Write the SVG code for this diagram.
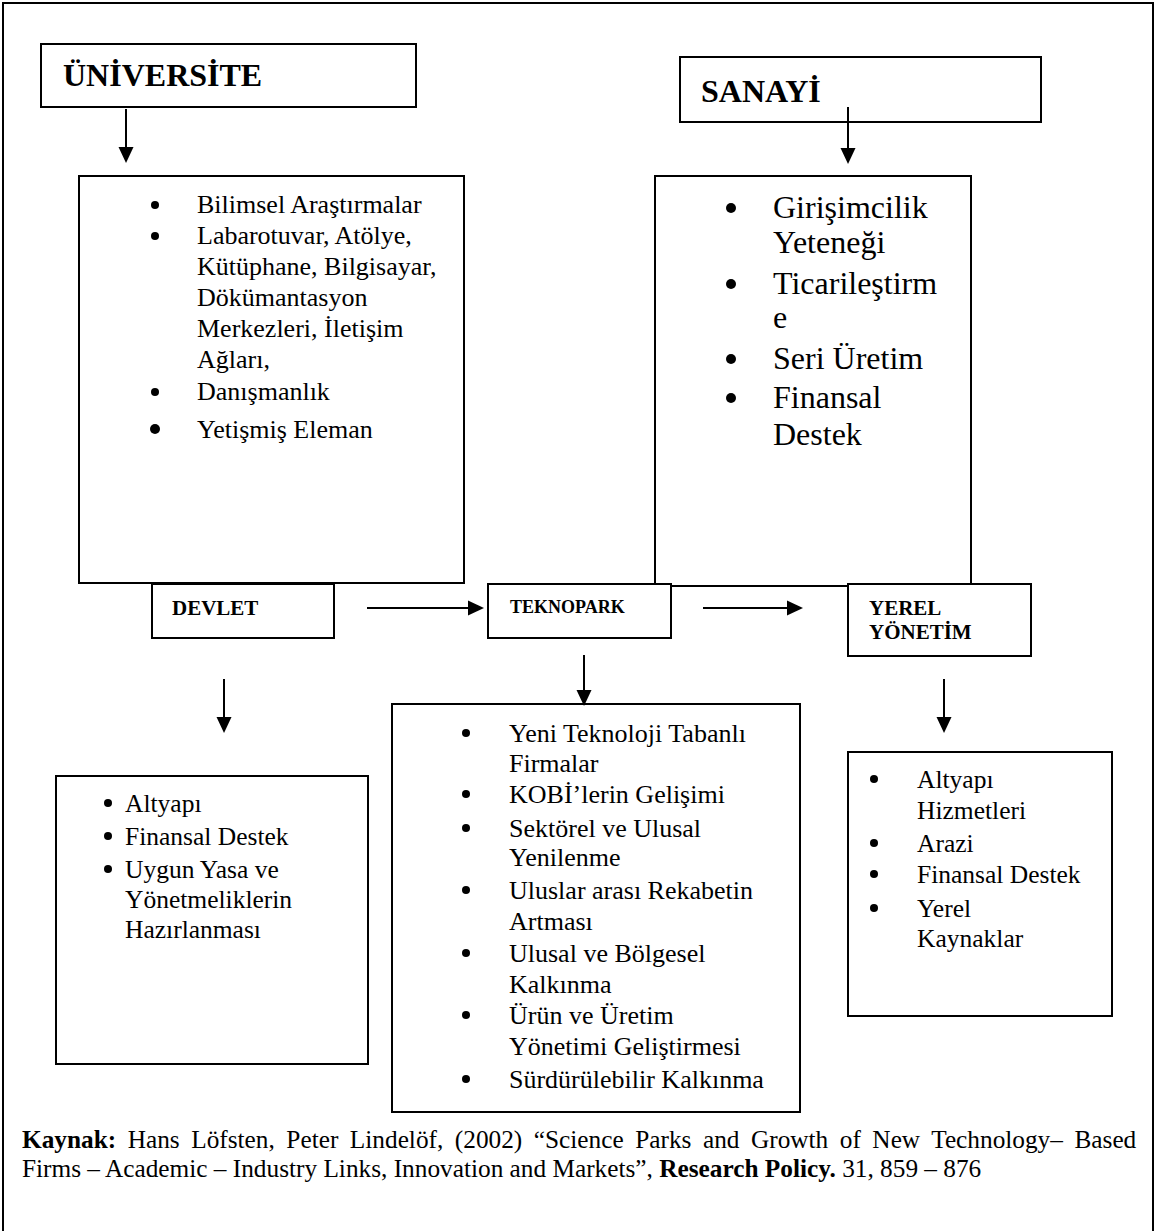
<svg xmlns="http://www.w3.org/2000/svg" width="1155" height="1231" viewBox="0 0 1155 1231">
  <style>
    .box { fill: #fff; stroke: #000; stroke-width: 2; }
    .frame { fill: none; stroke: #000; stroke-width: 2; }
    .t { font-family: "Liberation Serif", "Times New Roman", serif; fill: #000; }
    .title { font-weight: bold; font-size: 32px; }
    .small { font-weight: bold; font-size: 21px; }
    .b26 { font-size: 26px; }
    .b25 { font-size: 25.5px; }
    .b32 { font-size: 32px; }
    .foot { font-size: 25.3px; }
    .dot { fill: #000; }
    .conn { stroke: #000; stroke-width: 2; fill: none; marker-end: url(#ah); }
  </style>
  <defs>
    <marker id="ah" markerWidth="16" markerHeight="16" refX="12" refY="8" orient="auto" markerUnits="userSpaceOnUse">
      <path d="M0,0.5 L16,8 L0,15.5 Z" fill="#000"/>
    </marker>
  </defs>
  <rect width="1155" height="1231" fill="#fff"/>
  <path class="frame" d="M3,1235 V3 H1153 V1235"/>

  <g id="universite-icerik">
    <rect class="box" x="79" y="176" width="385" height="407"/>
    <circle class="dot" cx="155" cy="205" r="4"/>
    <circle class="dot" cx="155" cy="236" r="4"/>
    <circle class="dot" cx="155" cy="392" r="4"/>
    <circle class="dot" cx="155" cy="429" r="5"/>
    <text class="t b26" x="197" y="213">Bilimsel Araştırmalar</text>
    <text class="t b26" x="197" y="244">Labarotuvar, Atölye,</text>
    <text class="t b26" x="197" y="275">Kütüphane, Bilgisayar,</text>
    <text class="t b26" x="197" y="306">Dökümantasyon</text>
    <text class="t b26" x="197" y="337">Merkezleri, İletişim</text>
    <text class="t b26" x="197" y="368">Ağları,</text>
    <text class="t b26" x="197" y="400">Danışmanlık</text>
    <text class="t b26" x="197" y="438">Yetişmiş Eleman</text>
  </g>

  <g id="sanayi-icerik">
    <rect class="box" x="655" y="176" width="316" height="410"/>
    <circle class="dot" cx="731" cy="208" r="5"/>
    <circle class="dot" cx="731" cy="284" r="5"/>
    <circle class="dot" cx="731" cy="359" r="5"/>
    <circle class="dot" cx="731" cy="398" r="5"/>
    <text class="t b32" x="773" y="218">Girişimcilik</text>
    <text class="t b32" x="773" y="253">Yeteneği</text>
    <text class="t b32" x="773" y="294">Ticarileştirm</text>
    <text class="t b32" x="773" y="328">e</text>
    <text class="t b32" x="773" y="369">Seri Üretim</text>
    <text class="t b32" x="773" y="408">Finansal</text>
    <text class="t b32" x="773" y="445">Destek</text>
  </g>

  <g id="universite">
    <rect class="box" x="41" y="44" width="375" height="63"/>
    <text class="t title" x="63" y="86">ÜNİVERSİTE</text>
  </g>

  <g id="sanayi">
    <rect class="box" x="680" y="57" width="361" height="65"/>
    <text class="t title" x="701" y="102">SANAYİ</text>
  </g>

  <g id="devlet">
    <rect class="box" x="152" y="584" width="182" height="54"/>
    <text class="t small" x="172" y="615">DEVLET</text>
  </g>

  <g id="teknopark">
    <rect class="box" x="488" y="584" width="183" height="54"/>
    <text class="t" x="510" y="613" font-weight="bold" font-size="18">TEKNOPARK</text>
  </g>

  <g id="yerel-yonetim">
    <rect class="box" x="848" y="584" width="183" height="72"/>
    <text class="t small" x="869" y="615">YEREL</text>
    <text class="t small" x="869" y="639">YÖNETİM</text>
  </g>

  <g id="devlet-icerik">
    <rect class="box" x="56" y="776" width="312" height="288"/>
    <circle class="dot" cx="108" cy="803" r="4"/>
    <circle class="dot" cx="108" cy="836" r="4"/>
    <circle class="dot" cx="108" cy="869" r="4"/>
    <text class="t b25" x="125" y="812">Altyapı</text>
    <text class="t b25" x="125" y="845">Finansal Destek</text>
    <text class="t b25" x="125" y="878">Uygun Yasa ve</text>
    <text class="t b25" x="125" y="908">Yönetmeliklerin</text>
    <text class="t b25" x="125" y="938">Hazırlanması</text>
  </g>

  <g id="teknopark-icerik">
    <rect class="box" x="392" y="704" width="408" height="408"/>
    <circle class="dot" cx="466" cy="733" r="4"/>
    <circle class="dot" cx="466" cy="794" r="4"/>
    <circle class="dot" cx="466" cy="828" r="4"/>
    <circle class="dot" cx="466" cy="890" r="4"/>
    <circle class="dot" cx="466" cy="953" r="4"/>
    <circle class="dot" cx="466" cy="1015" r="4"/>
    <circle class="dot" cx="466" cy="1079" r="4"/>
    <text class="t b26" x="509" y="742">Yeni Teknoloji Tabanlı</text>
    <text class="t b26" x="509" y="772">Firmalar</text>
    <text class="t b26" x="509" y="803">KOBİ’lerin Gelişimi</text>
    <text class="t b26" x="509" y="837">Sektörel ve Ulusal</text>
    <text class="t b26" x="509" y="866">Yenilenme</text>
    <text class="t b26" x="509" y="899">Uluslar arası Rekabetin</text>
    <text class="t b26" x="509" y="930">Artması</text>
    <text class="t b26" x="509" y="962">Ulusal ve Bölgesel</text>
    <text class="t b26" x="509" y="993">Kalkınma</text>
    <text class="t b26" x="509" y="1024">Ürün ve Üretim</text>
    <text class="t b26" x="509" y="1055">Yönetimi Geliştirmesi</text>
    <text class="t b26" x="509" y="1088">Sürdürülebilir Kalkınma</text>
  </g>

  <g id="yerel-icerik">
    <rect class="box" x="848" y="752" width="264" height="264"/>
    <circle class="dot" cx="874" cy="779" r="4"/>
    <circle class="dot" cx="874" cy="843" r="4"/>
    <circle class="dot" cx="874" cy="874" r="4"/>
    <circle class="dot" cx="874" cy="908" r="4"/>
    <text class="t b25" x="917" y="788">Altyapı</text>
    <text class="t b25" x="917" y="819">Hizmetleri</text>
    <text class="t b25" x="917" y="852">Arazi</text>
    <text class="t b25" x="917" y="883">Finansal Destek</text>
    <text class="t b25" x="917" y="917">Yerel</text>
    <text class="t b25" x="917" y="947">Kaynaklar</text>
  </g>

  <g id="connectors">
    <line class="conn" x1="126" y1="109" x2="126" y2="159"/>
    <line class="conn" x1="848" y1="107" x2="848" y2="160"/>
    <line class="conn" x1="367" y1="608" x2="480" y2="608"/>
    <line class="conn" x1="703" y1="608" x2="799" y2="608"/>
    <line class="conn" x1="224" y1="679" x2="224" y2="729"/>
    <line class="conn" x1="584" y1="655" x2="584" y2="702"/>
    <line class="conn" x1="944" y1="679" x2="944" y2="729"/>
  </g>

  <g id="kaynak">
    <text class="t foot" x="22" y="1148" word-spacing="5.2"><tspan font-weight="bold">Kaynak:</tspan> Hans Löfsten, Peter Lindelöf, (2002) “Science Parks and Growth of New Technology– Based</text>
    <text class="t foot" x="22" y="1177">Firms – Academic – Industry Links, Innovation and Markets”, <tspan font-weight="bold">Research Policy.</tspan> 31, 859 – 876</text>
  </g>
</svg>
